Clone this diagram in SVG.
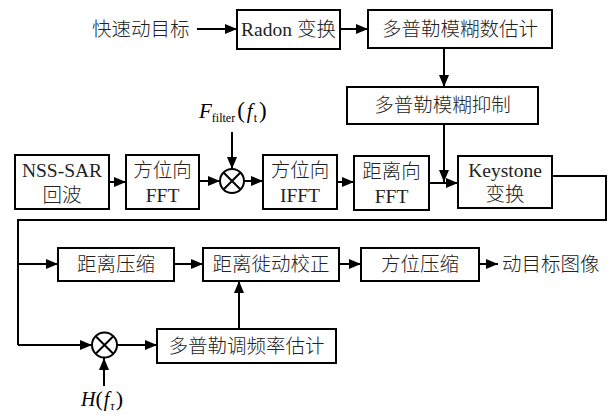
<svg xmlns="http://www.w3.org/2000/svg" width="611" height="415" viewBox="0 0 611 415">
  <style>
    .box { fill: #ffffff; stroke: #000000; stroke-width: 2; }
    .wire { fill: none; stroke: #000000; stroke-width: 2; }
    .lbl { font-family: "Liberation Serif", "Noto Sans CJK SC", serif; font-size: 19.5px; font-weight: 300; fill: #222222; text-anchor: middle; }
    .free { font-family: "Liberation Serif", "Noto Sans CJK SC", serif; font-size: 19.5px; font-weight: 300; fill: #222222; }
    .math { font-family: "Liberation Serif", serif; fill: #000000; }
  </style>
  <defs>
    <marker id="arrow" markerUnits="userSpaceOnUse" markerWidth="14" markerHeight="12" refX="12" refY="5" orient="auto">
      <path d="M0,0 L12,5 L0,10 Z" fill="#000000"/>
    </marker>
  </defs>

  <!-- connectors -->
  <g id="connectors" class="wire">
    <line x1="197" y1="29" x2="237" y2="29" marker-end="url(#arrow)"/>
    <line x1="340" y1="29" x2="368" y2="29" marker-end="url(#arrow)"/>
    <line x1="444" y1="48" x2="444" y2="87" marker-end="url(#arrow)"/>
    <line x1="444" y1="124" x2="444" y2="182" marker-end="url(#arrow)"/>
    <line x1="109" y1="182" x2="126" y2="182" marker-end="url(#arrow)"/>
    <line x1="199" y1="181" x2="220" y2="181" marker-end="url(#arrow)"/>
    <line x1="232" y1="132" x2="232" y2="169" marker-end="url(#arrow)"/>
    <line x1="244" y1="181" x2="263" y2="181" marker-end="url(#arrow)"/>
    <line x1="337" y1="182" x2="354" y2="182" marker-end="url(#arrow)"/>
    <line x1="429" y1="183" x2="458" y2="183" marker-end="url(#arrow)"/>
    <polyline points="552,176 606,176 606,220 18,220 18,345"/>
    <line x1="18" y1="264" x2="58" y2="264" marker-end="url(#arrow)"/>
    <line x1="174" y1="264" x2="203" y2="264" marker-end="url(#arrow)"/>
    <line x1="339" y1="264" x2="361" y2="264" marker-end="url(#arrow)"/>
    <line x1="479" y1="264" x2="498" y2="264" marker-end="url(#arrow)"/>
    <line x1="18" y1="345" x2="92" y2="345" marker-end="url(#arrow)"/>
    <line x1="117" y1="345" x2="157" y2="345" marker-end="url(#arrow)"/>
    <line x1="104" y1="386" x2="104" y2="358" marker-end="url(#arrow)"/>
    <line x1="239" y1="329" x2="239" y2="281" marker-end="url(#arrow)"/>
  </g>

  <!-- free labels -->
  <text class="free" x="92" y="36">快速动目标</text>
  <text class="free" x="502" y="271">动目标图像</text>
  <text class="math" x="199" y="118" font-size="21"><tspan font-style="italic">F</tspan><tspan font-size="12" dy="4">filter</tspan><tspan dy="-4" dx="2" font-size="23">(</tspan><tspan font-style="italic" dx="2">f</tspan><tspan font-size="12" dy="4" dx="1">t</tspan><tspan dy="-4" dx="2" font-size="23">)</tspan></text>
  <text class="math" x="81" y="406" font-size="20"><tspan font-style="italic">H</tspan><tspan font-size="22">(</tspan><tspan font-style="italic" dx="1">f</tspan><tspan font-size="12" font-style="italic" dy="4" dx="1">τ</tspan><tspan dy="-4" dx="1" font-size="22">)</tspan></text>

  <g id="radon">
    <rect class="box" x="237" y="10" width="103" height="39"/>
    <text class="lbl" x="288.5" y="36">Radon 变换</text>
  </g>
  <g id="ambiguity-estimate">
    <rect class="box" x="368" y="10" width="184" height="38"/>
    <text class="lbl" x="460" y="36">多普勒模糊数估计</text>
  </g>
  <g id="ambiguity-suppress">
    <rect class="box" x="347" y="87" width="191" height="37"/>
    <text class="lbl" x="442.5" y="112">多普勒模糊抑制</text>
  </g>
  <g id="echo">
    <rect class="box" x="15" y="155" width="94" height="54"/>
    <text class="lbl" x="62" y="177">NSS-SAR</text>
    <text class="lbl" x="62" y="202">回波</text>
  </g>
  <g id="az-fft">
    <rect class="box" x="126" y="155" width="73" height="54"/>
    <text class="lbl" x="162.5" y="177">方位向</text>
    <text class="lbl" x="162.5" y="202">FFT</text>
  </g>
  <g id="mixer-filter">
    <circle cx="232" cy="181" r="12" fill="#ffffff" stroke="#000000" stroke-width="2"/>
    <path d="M223.5,172.5 L240.5,189.5 M240.5,172.5 L223.5,189.5" stroke="#000000" stroke-width="2"/>
  </g>
  <g id="az-ifft">
    <rect class="box" x="263" y="155" width="74" height="54"/>
    <text class="lbl" x="300" y="177">方位向</text>
    <text class="lbl" x="300" y="202">IFFT</text>
  </g>
  <g id="rg-fft">
    <rect class="box" x="354" y="156" width="75" height="54"/>
    <text class="lbl" x="391.5" y="178">距离向</text>
    <text class="lbl" x="391.5" y="203">FFT</text>
  </g>
  <g id="keystone">
    <rect class="box" x="458" y="156" width="94" height="52"/>
    <text class="lbl" x="505" y="177">Keystone</text>
    <text class="lbl" x="505" y="201">变换</text>
  </g>
  <g id="range-compress">
    <rect class="box" x="58" y="248" width="116" height="33"/>
    <text class="lbl" x="116" y="271">距离压缩</text>
  </g>
  <g id="rcmc">
    <rect class="box" x="203" y="248" width="136" height="33"/>
    <text class="lbl" x="271" y="271">距离徙动校正</text>
  </g>
  <g id="az-compress">
    <rect class="box" x="361" y="248" width="118" height="33"/>
    <text class="lbl" x="420" y="271">方位压缩</text>
  </g>
  <g id="mixer-h">
    <circle cx="104.5" cy="345" r="12.5" fill="#ffffff" stroke="#000000" stroke-width="2"/>
    <path d="M95.7,336.2 L113.3,353.8 M113.3,336.2 L95.7,353.8" stroke="#000000" stroke-width="2"/>
  </g>
  <g id="doppler-rate">
    <rect class="box" x="157" y="329" width="179" height="34"/>
    <text class="lbl" x="246.5" y="353">多普勒调频率估计</text>
  </g>
</svg>
